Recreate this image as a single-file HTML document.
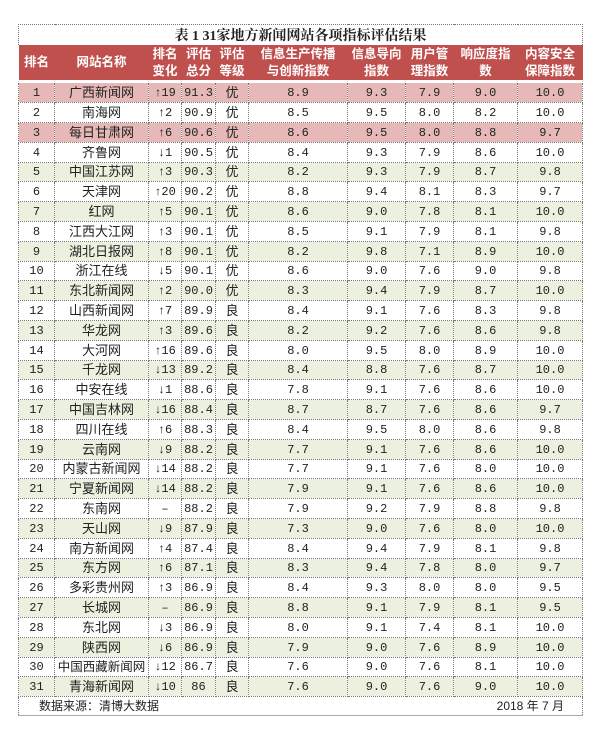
<!DOCTYPE html>
<html><head><meta charset="utf-8"><style>
body{margin:0;width:604px;height:733px;background:#fff;position:relative;font-family:"Liberation Sans","Noto Sans CJK SC",sans-serif;}
table{position:absolute;left:18px;top:24px;border-collapse:collapse;table-layout:fixed;width:564px;}
td{padding:0;text-align:center;border:1px dotted #777;font-size:12px;color:#222;white-space:nowrap;overflow:hidden;font-family:"Liberation Mono","Noto Sans CJK SC",monospace;}
td.n{font-family:"Liberation Sans","Noto Sans CJK SC",sans-serif;font-size:13px;}
.t td{height:16px;font-weight:bold;font-size:14px;border-bottom:none;font-family:"Liberation Serif","Noto Serif CJK SC",serif;}
.h td{height:35px;background:#c0504d;color:#fff;font-weight:bold;font-size:12.5px;line-height:17px;border:none;border-bottom:3px solid #fff;font-family:"Liberation Sans","Noto Sans CJK SC",sans-serif;}
tr.r td{height:19px;line-height:16px;}
tr.r:nth-child(5n+2) td{height:18px;}
tr.p td{background:#e6b9b8;}
tr.g td{background:#ebf1de;}
.f td{height:18px;text-align:left;font-family:"Liberation Sans","Noto Sans CJK SC",sans-serif;font-size:12px;line-height:16px;border-bottom:1px solid #aaa;}
</style></head><body>
<table>
<colgroup><col style="width:36px"><col style="width:94px"><col style="width:33px"><col style="width:34px"><col style="width:33px"><col style="width:99px"><col style="width:58px"><col style="width:48px"><col style="width:64px"><col style="width:65px"></colgroup>
<tr class="t"><td colspan="10">表 1 31家地方新闻网站各项指标评估结果</td></tr>
<tr class="h"><td>排名</td><td>网站名称</td><td>排名<br>变化</td><td>评估<br>总分</td><td>评估<br>等级</td><td>信息生产传播<br>与创新指数</td><td>信息导向<br>指数</td><td>用户管<br>理指数</td><td>响应度指<br>数</td><td>内容安全<br>保障指数</td></tr>
<tr class="r p"><td>1</td><td class="n">广西新闻网</td><td>↑19</td><td>91.3</td><td class="n">优</td><td>8.9</td><td>9.3</td><td>7.9</td><td>9.0</td><td>10.0</td></tr>
<tr class="r"><td>2</td><td class="n">南海网</td><td>↑2</td><td>90.9</td><td class="n">优</td><td>8.5</td><td>9.5</td><td>8.0</td><td>8.2</td><td>10.0</td></tr>
<tr class="r p"><td>3</td><td class="n">每日甘肃网</td><td>↑6</td><td>90.6</td><td class="n">优</td><td>8.6</td><td>9.5</td><td>8.0</td><td>8.8</td><td>9.7</td></tr>
<tr class="r"><td>4</td><td class="n">齐鲁网</td><td>↓1</td><td>90.5</td><td class="n">优</td><td>8.4</td><td>9.3</td><td>7.9</td><td>8.6</td><td>10.0</td></tr>
<tr class="r g"><td>5</td><td class="n">中国江苏网</td><td>↑3</td><td>90.3</td><td class="n">优</td><td>8.2</td><td>9.3</td><td>7.9</td><td>8.7</td><td>9.8</td></tr>
<tr class="r"><td>6</td><td class="n">天津网</td><td>↑20</td><td>90.2</td><td class="n">优</td><td>8.8</td><td>9.4</td><td>8.1</td><td>8.3</td><td>9.7</td></tr>
<tr class="r g"><td>7</td><td class="n">红网</td><td>↑5</td><td>90.1</td><td class="n">优</td><td>8.6</td><td>9.0</td><td>7.8</td><td>8.1</td><td>10.0</td></tr>
<tr class="r"><td>8</td><td class="n">江西大江网</td><td>↑3</td><td>90.1</td><td class="n">优</td><td>8.5</td><td>9.1</td><td>7.9</td><td>8.1</td><td>9.8</td></tr>
<tr class="r g"><td>9</td><td class="n">湖北日报网</td><td>↑8</td><td>90.1</td><td class="n">优</td><td>8.2</td><td>9.8</td><td>7.1</td><td>8.9</td><td>10.0</td></tr>
<tr class="r"><td>10</td><td class="n">浙江在线</td><td>↓5</td><td>90.1</td><td class="n">优</td><td>8.6</td><td>9.0</td><td>7.6</td><td>9.0</td><td>9.8</td></tr>
<tr class="r g"><td>11</td><td class="n">东北新闻网</td><td>↑2</td><td>90.0</td><td class="n">优</td><td>8.3</td><td>9.4</td><td>7.9</td><td>8.7</td><td>10.0</td></tr>
<tr class="r"><td>12</td><td class="n">山西新闻网</td><td>↑7</td><td>89.9</td><td class="n">良</td><td>8.4</td><td>9.1</td><td>7.6</td><td>8.3</td><td>9.8</td></tr>
<tr class="r g"><td>13</td><td class="n">华龙网</td><td>↑3</td><td>89.6</td><td class="n">良</td><td>8.2</td><td>9.2</td><td>7.6</td><td>8.6</td><td>9.8</td></tr>
<tr class="r"><td>14</td><td class="n">大河网</td><td>↑16</td><td>89.6</td><td class="n">良</td><td>8.0</td><td>9.5</td><td>8.0</td><td>8.9</td><td>10.0</td></tr>
<tr class="r g"><td>15</td><td class="n">千龙网</td><td>↓13</td><td>89.2</td><td class="n">良</td><td>8.4</td><td>8.8</td><td>7.6</td><td>8.7</td><td>10.0</td></tr>
<tr class="r"><td>16</td><td class="n">中安在线</td><td>↓1</td><td>88.6</td><td class="n">良</td><td>7.8</td><td>9.1</td><td>7.6</td><td>8.6</td><td>10.0</td></tr>
<tr class="r g"><td>17</td><td class="n">中国吉林网</td><td>↓16</td><td>88.4</td><td class="n">良</td><td>8.7</td><td>8.7</td><td>7.6</td><td>8.6</td><td>9.7</td></tr>
<tr class="r"><td>18</td><td class="n">四川在线</td><td>↑6</td><td>88.3</td><td class="n">良</td><td>8.4</td><td>9.5</td><td>8.0</td><td>8.6</td><td>9.8</td></tr>
<tr class="r g"><td>19</td><td class="n">云南网</td><td>↓9</td><td>88.2</td><td class="n">良</td><td>7.7</td><td>9.1</td><td>7.6</td><td>8.6</td><td>10.0</td></tr>
<tr class="r"><td>20</td><td class="n">内蒙古新闻网</td><td>↓14</td><td>88.2</td><td class="n">良</td><td>7.7</td><td>9.1</td><td>7.6</td><td>8.0</td><td>10.0</td></tr>
<tr class="r g"><td>21</td><td class="n">宁夏新闻网</td><td>↓14</td><td>88.2</td><td class="n">良</td><td>7.9</td><td>9.1</td><td>7.6</td><td>8.6</td><td>10.0</td></tr>
<tr class="r"><td>22</td><td class="n">东南网</td><td>–</td><td>88.2</td><td class="n">良</td><td>7.9</td><td>9.2</td><td>7.9</td><td>8.8</td><td>9.8</td></tr>
<tr class="r g"><td>23</td><td class="n">天山网</td><td>↓9</td><td>87.9</td><td class="n">良</td><td>7.3</td><td>9.0</td><td>7.6</td><td>8.0</td><td>10.0</td></tr>
<tr class="r"><td>24</td><td class="n">南方新闻网</td><td>↑4</td><td>87.4</td><td class="n">良</td><td>8.4</td><td>9.4</td><td>7.9</td><td>8.1</td><td>9.8</td></tr>
<tr class="r g"><td>25</td><td class="n">东方网</td><td>↑6</td><td>87.1</td><td class="n">良</td><td>8.3</td><td>9.4</td><td>7.8</td><td>8.0</td><td>9.7</td></tr>
<tr class="r"><td>26</td><td class="n">多彩贵州网</td><td>↑3</td><td>86.9</td><td class="n">良</td><td>8.4</td><td>9.3</td><td>8.0</td><td>8.0</td><td>9.5</td></tr>
<tr class="r g"><td>27</td><td class="n">长城网</td><td>–</td><td>86.9</td><td class="n">良</td><td>8.8</td><td>9.1</td><td>7.9</td><td>8.1</td><td>9.5</td></tr>
<tr class="r"><td>28</td><td class="n">东北网</td><td>↓3</td><td>86.9</td><td class="n">良</td><td>8.0</td><td>9.1</td><td>7.4</td><td>8.1</td><td>10.0</td></tr>
<tr class="r g"><td>29</td><td class="n">陕西网</td><td>↓6</td><td>86.9</td><td class="n">良</td><td>7.9</td><td>9.0</td><td>7.6</td><td>8.9</td><td>10.0</td></tr>
<tr class="r"><td>30</td><td class="n" style="font-size:12.5px">中国西藏新闻网</td><td>↓12</td><td>86.7</td><td class="n">良</td><td>7.6</td><td>9.0</td><td>7.6</td><td>8.1</td><td>10.0</td></tr>
<tr class="r g"><td>31</td><td class="n">青海新闻网</td><td>↓10</td><td>86</td><td class="n">良</td><td>7.6</td><td>9.0</td><td>7.6</td><td>9.0</td><td>10.0</td></tr>
<tr class="f"><td colspan="10"><span style="padding-left:20px">数据来源：清博大数据</span><span style="float:right;padding-right:18px">2018 年 7 月</span></td></tr>
</table>
</body></html>
